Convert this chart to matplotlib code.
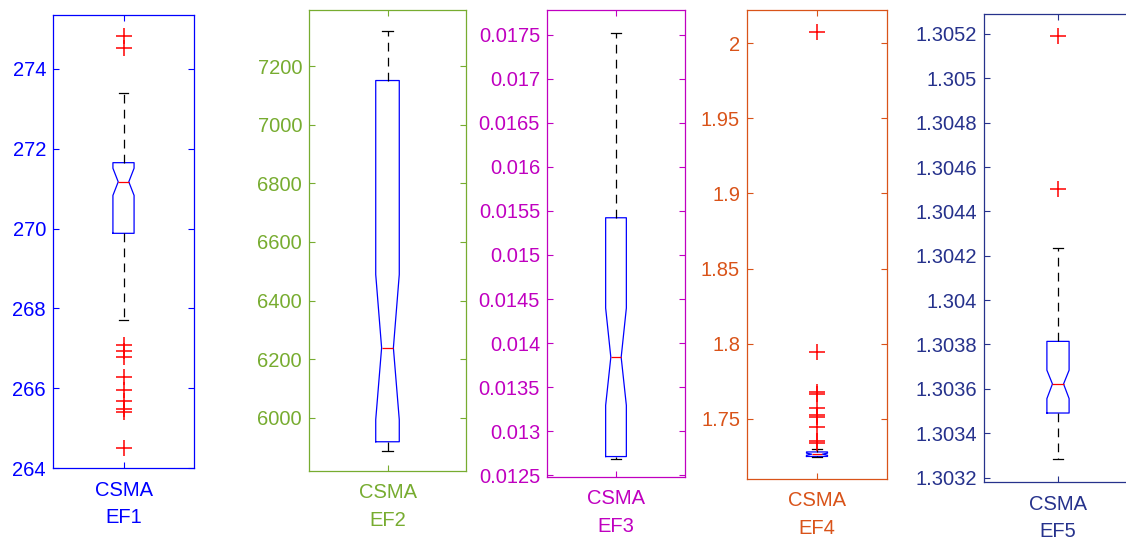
import matplotlib
matplotlib.use("Agg")
import matplotlib.pyplot as plt

plt.rcParams['font.family'] = ['Liberation Sans', 'DejaVu Sans']

# panel names, colours and box statistics
names = ["EF1", "EF2", "EF3", "EF4", "EF5"]
colors = ["#0000FF", "#77AC30", "#C000C0", "#D95319", "#26328C"]

medians = [271.17, 6239, 0.013839, 1.7265, 1.303622]
q1s = [269.88, 5918.7, 0.012712, 1.7250, 1.303491]
q3s = [271.65, 7150.5, 0.015422, 1.7280, 1.303814]
ci_lo = [270.83, 5994, 0.013293, 1.7258, 1.303556]
ci_hi = [271.51, 6489, 0.014397, 1.7272, 1.303684]
whis_lo = [267.72, 5886, 0.012689, 1.7245, 1.303282]
whis_hi = [273.39, 7319, 0.017516, 1.7300, 1.304235]
fliers = [
    [274.83, 274.53, 267.07, 266.92, 266.79, 266.28, 265.95, 265.67, 265.47, 265.40, 264.51],
    [],
    [],
    [2.0076, 1.7947, 1.7679, 1.7665, 1.7573, 1.7523, 1.7511, 1.7443, 1.7351, 1.7339],
    [1.30519, 1.304502],
]
yticks = [
    [264, 266, 268, 270, 272, 274],
    [6000, 6200, 6400, 6600, 6800, 7000, 7200],
    [0.0125, 0.013, 0.0135, 0.014, 0.0145, 0.015, 0.0155, 0.016, 0.0165, 0.017, 0.0175],
    [1.75, 1.8, 1.85, 1.9, 1.95, 2],
    [1.3032, 1.3034, 1.3036, 1.3038, 1.304, 1.3042, 1.3044, 1.3046, 1.3048, 1.305, 1.3052],
]
ylims = [(264, 275.35), (5819, 7391), (0.01248, 0.01778), (1.710, 2.022), (1.30318, 1.30529)]

# axes boxes in pixels: left, right, top, bottom
boxes_px = [(53, 194, 15, 468), (309, 466, 10, 471), (547, 685, 10, 477),
            (747, 887, 10, 479), (984, 1132, 14, 482)]

W, H = 1126, 541
fig = plt.figure(figsize=(W / 100, H / 100), dpi=100)

for i in range(5):
    l, r, t, b = boxes_px[i]
    ax = fig.add_axes([l / W, 1 - b / H, (r - l) / W, (b - t) / H])
    c = colors[i]
    stats = [dict(med=medians[i], q1=q1s[i], q3=q3s[i], cilo=ci_lo[i], cihi=ci_hi[i],
                  whislo=whis_lo[i], whishi=whis_hi[i], fliers=fliers[i], label="CSMA")]
    ax.bxp(stats, positions=[1], widths=0.15, shownotches=True, capwidths=0.07,
           boxprops=dict(color="blue", linewidth=0.9),
           medianprops=dict(color="red", linewidth=0.9),
           whiskerprops=dict(color="black", linewidth=0.9, linestyle=(0, (7, 5))),
           capprops=dict(color="black", linewidth=0.9),
           flierprops=dict(marker="+", markeredgecolor="red", markersize=12,
                           markeredgewidth=1.1, linestyle="none"))
    ax.set_xlim(0.5, 1.5)
    ax.set_ylim(*ylims[i])
    ax.set_yticks(yticks[i])
    ax.set_yticklabels([f"{v:g}" for v in yticks[i]])
    ax.set_xticks([1])
    ax.set_xticklabels(["CSMA"])
    ax.set_xlabel(names[i], color=c, fontsize=14.5, labelpad=6)
    ax.tick_params(axis="both", direction="in", length=4, width=0.8, colors=c,
                   labelsize=14.5, top=True, right=True)
    ax.tick_params(axis="x", pad=9)
    ax.tick_params(axis="y", pad=5)
    for s in ax.spines.values():
        s.set_color(c)
        s.set_linewidth(0.9)

fig.savefig("out.png", dpi=100)
